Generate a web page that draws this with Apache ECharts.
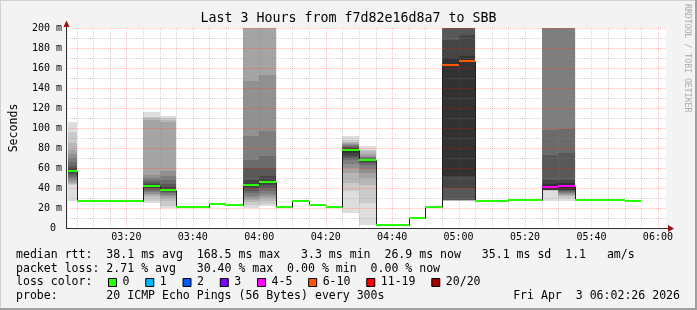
<!DOCTYPE html>
<html><head><meta charset="utf-8">
<script src="https://cdn.jsdelivr.net/npm/echarts@6/dist/echarts.min.js"></script>
<style>html,body{margin:0;padding:0;background:#f3f3f3}#c{width:697px;height:310px}</style>
</head><body><div id="c"></div>
<script>
// ---------------- data ----------------
const titleText = 'Last 3 Hours from f7d82e16d8a7 to SBB';
const viewStart = '03:02:26';
const viewEnd = '06:02:26';
const stepMinutes = 5;
const slotStart = ['03:00','03:05','03:10','03:15','03:20','03:25','03:30','03:35','03:40','03:45',
  '03:50','03:55','04:00','04:05','04:10','04:15','04:20','04:25','04:30','04:35','04:40','04:45',
  '04:50','04:55','05:00','05:05','05:10','05:15','05:20','05:25','05:30','05:35','05:40','05:45','05:50'];
const medianMs = [56.8,26.6,26.6,26.6,26.6,41.6,37.6,21.3,21.3,23.6,
  22.6,42.6,45.6,21.3,26.6,22.6,21.3,77.6,67.6,3.3,3.3,9.6,
  21.3,163.3,167,26.6,26.6,27.6,27.6,40.6,41.6,27.6,27.6,27.6,26.6];
const lossIndex = [0,0,0,0,0,0,0,0,0,0, 0,0,0,0,0,0,0,0,0,0,0,0, 0,5,5,0,0,0,0,4,4,0,0,0,0];
const smokeSlots = ['03:00','03:25','03:30','03:55','04:00','04:25','04:30','04:55','05:00','05:25','05:30'];
const smokePings = [
  [27,43,44,45,47,49,51,53,55,56,58,60,62,66,70,74,78,85,96,106],
  [25,27,31,33,34.5,36,37.5,39,40.5,41.8,43,44.5,46,48,50,53,108,110,111,116],
  [20,22,27,30,32,33.5,35,36,37,37.4,39,41,44,48,52,57,106,108,110,112],
  [20,23,26,28,30,32,35,37.5,40,42,43.3,48.3,60,68.3,91.6,146.6,260,280,290,300],
  [21.6,24,27,30,32,34,36.6,40,43,45,46.6,51.6,60,71.6,96.6,153.3,260,280,290,300],
  [15,37,45,55,60,64,68,70,72,75,78.5,80,81,82,83,84,85,86,88,92],
  [3.3,25,43,50,55,59,63,65,66.5,67.2,68,68.8,69.5,70.3,71,71.8,74,77,78.3,81.6],
  [27,27.2,27.4,27.6,27.8,28,28.1,28.3,40,51.6,170,188,260,270,280,290,300,300,300,300],
  [27,27.2,27.4,27.6,27.8,28,28.1,28.3,40,51.6,172,193,260,270,280,290,300,300,300,300],
  [27,37.5,37.7,37.9,38,38.1,38.2,38.3,38.4,38.5,44,48.3,73.3,98.3,260,270,280,290,300,300],
  [26.6,30,31.6,33,34,35,36,37,37.8,38.3,45,48.3,75,99.3,260,270,280,290,300,300]
];
const xTickLabels = ['03:20','03:40','04:00','04:20','04:40','05:00','05:20','05:40','06:00'];
const yMaxMs = 200;
const yStepMs = 20;
const lossLabels = ['0','1','2','3','4-5','6-10','11-19','20/20'];
const lossColors = ['#26ff00','#00b8ff','#0059ff','#7e00ff','#ff00ff','#ff5500','#ff0000','#a10000'];
const statLine1 = 'median rtt:  38.1 ms avg  168.5 ms max   3.3 ms min  26.9 ms now   35.1 ms sd  1.1   am/s';
const statLine2 = 'packet loss: 2.71 % avg   30.40 % max  0.00 % min  0.00 % now';
const statLine3 = 'loss color:';
const statLine4 = 'probe:       20 ICMP Echo Pings (56 Bytes) every 300s';
const stampText = 'Fri Apr  3 06:02:26 2026';
const yName = 'Seconds';
const sideText = 'RRDTOOL / TOBI OETIKER';

// ---------------- helpers ----------------
const MONO = "'DejaVu Sans Mono', monospace";
function toMin(s){const p=s.split(':').map(Number);return p[0]*60+p[1]+(p[2]||0)/60;}
function pad(n){return (n<10?'0':'')+n;}
const viewStartMin = toMin(viewStart), viewEndMin = toMin(viewEnd);
const slotMin = slotStart.map(toMin);
const xTickVals = xTickLabels.map(toMin);

const G = {left:66, top:28, width:600, height:200};

function renderSmoke(params, api){
  const k = api.value(2);
  const pings = smokePings[k];
  const t0 = toMin(smokeSlots[k]), t1 = t0 + stepMinutes;
  const cs = params.coordSys;
  const x0 = Math.round(Math.max(api.coord([t0,0])[0], cs.x));
  const x1 = Math.round(Math.min(api.coord([t1,0])[0], cs.x+cs.width));
  const n = pings.length, half = n/2, ch = [];
  for (let i=0;i<half;i++){
    const lo = Math.min(pings[i], yMaxMs), hi = Math.min(pings[n-1-i], yMaxMs);
    const ylo = Math.round(api.coord([t0,lo])[1]), yhi = Math.round(api.coord([t0,hi])[1]);
    const g = Math.floor(190/half*(half-(i+1)))+50;
    ch.push({type:'rect', shape:{x:x0,y:yhi,width:x1-x0,height:Math.max(ylo-yhi,0)}, style:{fill:'rgb('+g+','+g+','+g+')'}});
  }
  return {type:'group', children:ch};
}

function renderGrid(params, api){
  const cs = params.coordSys, ch = [];
  const minorC = 'rgba(140,140,140,0.36)', majorC = 'rgba(255,40,40,0.27)';
  for (let t = Math.ceil(viewStartMin/stepMinutes)*stepMinutes; t < viewEndMin; t += stepMinutes){
    const x = Math.round(api.coord([t,0])[0]) + 0.5;
    const major = xTickVals.indexOf(t) >= 0;
    ch.push({type:'line', shape:{x1:x,y1:cs.y,x2:x,y2:cs.y+cs.height}, style:{stroke:major?majorC:minorC,lineWidth:1,lineDash:[1,1]}});
  }
  for (let v = yStepMs/2; v <= yMaxMs; v += yStepMs/2){
    const y = Math.round(api.coord([viewStartMin,v])[1]) + 0.5;
    const major = v % yStepMs === 0;
    ch.push({type:'line', shape:{x1:cs.x,y1:y,x2:cs.x+cs.width,y2:y}, style:{stroke:major?majorC:minorC,lineWidth:1,lineDash:[1,1]}});
  }
  return {type:'group', children:ch};
}

function renderMedian(params, api){
  const i = api.value(2);
  const t0 = Math.max(slotMin[i], viewStartMin), t1 = slotMin[i] + stepMinutes;
  const X0 = Math.round(api.coord([t0,0])[0]), X1 = Math.round(api.coord([t1,0])[0]);
  const Y = Math.round(api.coord([t0, medianMs[i]])[1]);
  const ch = [];
  ch.push({type:'line', shape:{x1:X0,y1:Y+0.5,x2:X1,y2:Y+0.5}, style:{stroke:'#202020',lineWidth:1}});
  if (i+1 < medianMs.length){
    const Yn = Math.round(api.coord([t1, medianMs[i+1]])[1]);
    ch.push({type:'line', shape:{x1:X1+0.5,y1:Y+0.5,x2:X1+0.5,y2:Yn+0.5}, style:{stroke:'#202020',lineWidth:1}});
  }
  ch.push({type:'line', shape:{x1:X0,y1:Y,x2:X1,y2:Y}, style:{stroke:lossColors[lossIndex[i]],lineWidth:2}});
  return {type:'group', children:ch};
}

// legend graphics
const graphics = [];
const CW = 6.95, LX = 16;
const rows = [254.8, 268.5, 282.2, 295.9];
function txt(x,y,s,extra){return Object.assign({type:'text', x:x, y:y, silent:true, style:{text:s, font:'11.55px '+MONO, fill:'#000', textAlign:'left', textVerticalAlign:'middle'}}, extra||{});}
graphics.push(txt(LX, rows[0], statLine1));
graphics.push(txt(LX, rows[1], statLine2));
graphics.push(txt(LX, rows[2], statLine3));
graphics.push(txt(LX, rows[3], statLine4));
const stamp = txt(680, rows[3], stampText); stamp.style.textAlign = 'right'; graphics.push(stamp);
let bx = 108;
lossLabels.forEach(function(lab, k){
  graphics.push({type:'rect', silent:true, shape:{x:bx+0.5,y:Math.round(rows[2])-4+0.5,width:8,height:8}, style:{fill:lossColors[k], stroke:'#000', lineWidth:1}});
  graphics.push(txt(bx+14.5, rows[2], lab));
  bx = bx + 14.5 + lab.length*CW + 15.8;
});
// side text
graphics.push({type:'text', silent:true, x:686.7, y:4, rotation:-Math.PI/2,
  style:{text:sideText, font:'8.2px '+MONO, fill:'#ababab', textAlign:'left', textVerticalAlign:'middle'}});
// axes lines + arrows
const axX = G.left + 0.5, axY = G.top + G.height + 0.5;
graphics.push({type:'line', silent:true, z:50, shape:{x1:axX,y1:axY,x2:axX,y2:G.top-3}, style:{stroke:'#303030',lineWidth:1}});
graphics.push({type:'line', silent:true, z:50, shape:{x1:G.left,y1:axY,x2:G.left+G.width+3,y2:axY}, style:{stroke:'#303030',lineWidth:1}});
graphics.push({type:'polygon', silent:true, z:50, shape:{points:[[axX-3,G.top-1],[axX+3,G.top-1],[axX,G.top-7.5]]}, style:{fill:'#9a1010'}});
graphics.push({type:'polygon', silent:true, z:50, shape:{points:[[G.left+G.width+2,axY-3.5],[G.left+G.width+2,axY+3.5],[G.left+G.width+8,axY]]}, style:{fill:'#9a1010'}});
// frame
graphics.push({type:'rect', silent:true, shape:{x:0,y:0,width:697,height:1}, style:{fill:'#d2d2d2'}});
graphics.push({type:'rect', silent:true, shape:{x:0,y:0,width:1,height:310}, style:{fill:'#d2d2d2'}});
graphics.push({type:'rect', silent:true, shape:{x:695,y:0,width:2,height:310}, style:{fill:'#a0a0a0'}});
graphics.push({type:'rect', silent:true, shape:{x:0,y:308,width:697,height:2}, style:{fill:'#a0a0a0'}});

const chart = echarts.init(document.getElementById('c'), null, {renderer:'canvas', width:697, height:310});
chart.setOption({
  backgroundColor:'#f3f3f3',
  animation:false,
  title:{text:titleText, left:'center', top:12, padding:0,
    textStyle:{fontFamily:MONO, fontSize:13.3, fontWeight:'normal', color:'#000'}},
  grid:{left:G.left, top:G.top, width:G.width, height:G.height, show:true, backgroundColor:'#fff', borderWidth:0, containLabel:false},
  xAxis:{type:'value', min:viewStartMin, max:viewEndMin,
    axisLine:{show:false}, axisTick:{show:false}, splitLine:{show:false},
    axisLabel:{customValues:xTickVals, formatter:function(v){return pad(Math.floor(v/60))+':'+pad(Math.round(v%60));},
      fontFamily:MONO, fontSize:10, color:'#000', margin:4}},
  yAxis:{type:'value', min:0, max:yMaxMs, interval:yStepMs,
    name:yName, nameLocation:'middle', nameRotate:90, nameGap:48,
    nameTextStyle:{fontFamily:MONO, fontSize:11.55, color:'#000'},
    axisLine:{show:false}, axisTick:{show:false}, splitLine:{show:false},
    axisLabel:{formatter:function(v){return v===0?'0 ':v+' m';}, fontFamily:MONO, fontSize:10, color:'#000', margin:6}},
  series:[
    {type:'custom', z:1, renderItem:renderSmoke, silent:true,
      data:smokeSlots.map(function(s,k){return [toMin(s)+2.5, 0, k];}), encode:{x:0,y:1}},
    {type:'custom', z:2, renderItem:renderGrid, silent:true, data:[[viewStartMin+1,1,0]], encode:{x:0,y:1}},
    {type:'custom', z:3, renderItem:renderMedian, silent:true,
      data:slotStart.map(function(s,i){return [toMin(s)+2.5, medianMs[i], i];}), encode:{x:0,y:1}}
  ],
  graphic:graphics
});
</script></body></html>
